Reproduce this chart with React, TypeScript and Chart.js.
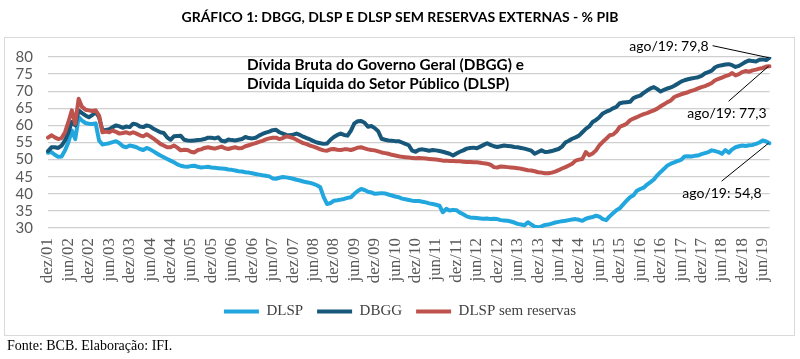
import React, { useEffect, useRef } from 'react';
import { Chart, registerables } from 'chart.js';

Chart.register(...registerables);

// ---- Data (% do PIB), monthly from dez/01 to ago/19 ----
const MONTHS = ['jan', 'fev', 'mar', 'abr', 'mai', 'jun', 'jul', 'ago', 'set', 'out', 'nov', 'dez'];
const FIRST_YEAR = 2001;
const FIRST_MONTH = 11; // dez

const DLSP = [
  52.0,
  52.2, 51.4, 50.8, 50.9, 52.7, 55.1, 58.5, 56.0, 62.4, 61.4, 60.7, 60.5,
  60.4, 60.6, 55.6, 54.4, 54.6, 54.8, 55.1, 55.4, 54.8, 53.9, 53.6, 54.1,
  53.9, 53.6, 53.1, 52.8, 53.4, 53.0, 52.4, 51.8, 51.2, 50.7, 50.2, 49.7,
  49.2, 48.6, 48.2, 48.0, 47.9, 48.1, 48.2, 47.9, 47.7, 47.8, 47.9, 47.7,
  47.6, 47.5, 47.4, 47.3, 47.1, 47.0, 46.8, 46.6, 46.5, 46.3, 46.2, 46.0,
  45.8, 45.6, 45.4, 45.3, 45.1, 44.5, 44.4, 44.7, 44.9, 44.8, 44.6, 44.4,
  44.1, 43.9, 43.6, 43.4, 43.2, 42.9, 42.5, 41.9, 39.0, 37.0, 37.3, 38.0,
  38.1, 38.3, 38.5, 38.8, 39.0, 40.0, 40.8, 41.4, 41.1, 40.6, 40.4, 40.0,
  40.1, 40.2, 40.1, 39.8, 39.5, 39.2, 39.0, 38.6, 38.4, 38.2, 38.0, 37.9,
  37.9, 37.7, 37.5, 37.2, 37.0, 36.8, 36.5, 34.6, 35.6, 35.1, 35.3, 35.2,
  34.5, 34.0, 33.4, 33.1, 33.0, 32.9, 32.8, 32.7, 32.8, 32.6, 32.7, 32.6,
  32.3, 32.2, 32.1, 31.9, 31.6, 31.2, 31.0, 30.8, 31.7, 31.0, 30.4, 30.2,
  30.5, 30.9, 31.0, 31.3, 31.6, 31.8, 32.0, 32.1, 32.3, 32.5, 32.6, 32.4,
  32.1, 32.7, 33.0, 33.2, 33.6, 33.3, 32.6, 32.3, 33.4, 34.3, 35.2, 35.8,
  36.9, 38.0, 39.0, 39.6, 40.9, 41.4, 41.8, 42.7, 43.4, 44.2, 45.4, 46.4,
  47.3, 48.3, 48.8, 49.2, 49.6, 49.9, 50.9, 51.0, 50.9, 51.1, 51.2, 51.6,
  51.9, 52.2, 52.7, 52.5, 52.2, 51.7, 52.8, 52.0, 53.0, 53.6, 53.9, 54.1,
  54.0, 54.2, 54.3, 54.6, 55.0, 55.6, 55.3, 54.8,
];

const DBGG = [
  52.5,
  53.6, 53.6, 53.4, 54.1, 55.6, 58.0, 61.0, 60.0, 64.4, 63.6, 62.9, 62.4,
  63.0, 63.9, 62.4, 58.5, 58.7, 58.9, 59.5, 60.0, 59.7, 59.3, 59.7, 59.5,
  60.5, 60.3, 59.7, 59.5, 60.0, 59.7, 59.0, 58.5, 58.0, 57.8, 56.5, 55.8,
  56.8, 56.9, 57.0, 55.8, 55.6, 55.5, 55.6, 55.7, 55.8, 56.0, 56.4, 56.4,
  56.2, 56.5, 55.5, 55.3, 55.9, 55.7, 55.6, 55.8, 56.0, 56.6, 56.3, 56.2,
  56.4, 57.0, 57.5, 57.9, 58.2, 58.6, 58.7, 58.0, 57.6, 57.2, 57.1, 57.3,
  57.6, 57.2, 56.7, 56.3, 55.9, 55.4, 55.0, 54.8, 54.6, 54.7, 55.8, 56.6,
  57.2, 57.6, 57.2, 57.0, 58.5, 60.6, 61.2, 61.3, 60.8, 59.6, 59.8, 59.2,
  58.3, 56.1, 55.8, 55.6, 55.5, 55.4, 55.4, 55.0, 54.6, 54.2, 52.6, 52.3,
  52.9, 53.0, 52.8, 52.6, 52.8, 52.7, 52.5, 52.3, 52.0, 51.7, 51.2, 51.8,
  52.3, 52.7, 53.2, 53.4, 53.5, 53.3, 53.8, 54.3, 54.8, 54.3, 53.9, 53.7,
  53.9, 54.1, 54.0, 53.9, 53.7, 53.6, 53.4, 53.2, 52.9, 52.6, 51.7, 52.2,
  52.7, 52.2, 52.3, 52.5, 52.8, 53.1, 53.8, 55.0, 55.5, 56.1, 56.5, 57.0,
  58.0, 59.0, 59.7, 61.0, 61.6, 62.4, 63.5, 64.0, 64.4, 65.0, 65.4, 66.5,
  66.7, 66.8, 66.9, 68.0, 68.4, 68.7, 69.5, 70.2, 70.8, 71.2, 70.6, 69.9,
  70.4, 70.8, 71.1, 71.6, 72.2, 72.8, 73.2, 73.5, 73.7, 73.9, 74.1, 74.5,
  75.2, 75.6, 76.0, 77.0, 77.4, 77.6, 77.8, 77.9, 77.6, 77.1, 77.4, 78.0,
  78.6, 79.0, 78.8, 78.7, 79.2, 79.3, 79.1, 79.8,
];

const DLSP_SEM_RESERVAS = [
  56.4,
  57.1, 56.5, 56.0, 56.3, 58.0, 61.0, 64.4, 60.5, 67.8, 65.4, 64.6, 64.4,
  64.2, 64.4, 62.9, 58.0, 58.2, 58.0, 58.5, 58.1, 57.6, 57.8, 58.0, 57.6,
  58.0, 57.6, 57.1, 56.8, 57.4, 56.8, 56.1, 55.4, 54.6, 54.1, 53.6, 53.6,
  54.1, 53.5, 52.7, 52.9, 52.8, 52.3, 52.1, 52.8, 53.0, 53.4, 53.6, 53.4,
  53.2, 53.5, 53.8, 53.3, 53.1, 53.4, 53.6, 53.3, 53.4, 53.9, 54.2, 54.5,
  54.8, 55.2, 55.5, 55.9, 56.2, 56.4, 56.4, 56.0, 56.3, 56.8, 56.6, 56.3,
  55.8, 55.3, 54.8, 54.5, 54.1, 53.8, 53.4, 53.0, 52.7, 52.6, 53.0, 53.1,
  52.9, 52.8, 53.0, 53.0, 52.8, 53.1, 53.5, 53.6, 53.3, 53.0, 52.8, 52.7,
  52.4, 52.1, 51.9, 51.7, 51.4, 51.2, 51.0, 50.8, 50.7, 50.6, 50.5, 50.4,
  50.5, 50.4, 50.3, 50.2, 50.1, 50.0, 49.9, 49.7, 49.7, 49.6, 49.6, 49.5,
  49.5, 49.4, 49.3, 49.3, 49.2, 49.2, 49.1, 48.9, 48.8, 48.5, 47.8, 47.7,
  48.0, 47.9, 47.8, 47.7, 47.6, 47.5, 47.3, 47.1, 46.9, 46.8, 46.6, 46.3,
  46.2, 46.0, 46.0, 46.2, 46.5, 46.9, 47.4, 47.8, 48.3, 48.8, 49.7, 50.0,
  50.2, 52.2, 51.3, 51.8, 52.7, 54.2, 55.2, 56.1, 57.1, 57.3, 58.2, 59.6,
  60.0, 60.5, 61.5, 62.0, 62.4, 62.9, 63.3, 63.6, 64.0, 64.4, 64.9, 65.6,
  66.2, 66.8, 67.3, 68.3, 68.7, 69.1, 69.4, 69.7, 70.1, 70.4, 70.8, 71.2,
  71.5, 71.9, 72.4, 73.2, 73.6, 74.0, 74.4, 74.7, 75.3, 74.6, 75.0, 75.6,
  75.9, 75.7, 76.1, 76.3, 76.6, 76.8, 77.2, 77.3,
];

const SERIES_NAMES = ['DLSP', 'DBGG', 'DLSP sem reservas'];
const SERIES_COLORS = ['#22a6de', '#17587a', '#bd534c'];

const Y_MIN = 30;
const Y_MAX = 80;
const Y_STEP = 5;
const LABEL_EVERY = 6;

const TITLE = 'GRÁFICO 1: DBGG, DLSP E DLSP SEM RESERVAS EXTERNAS - % PIB';
const INNER_TITLE = ['Dívida Bruta do Governo Geral (DBGG) e', 'Dívida Líquida do Setor Público (DLSP)'];
const SOURCE = 'Fonte: BCB. Elaboração: IFI.';

const categories = DLSP.map((_, i) => {
  const k = FIRST_MONTH + i;
  const m = k % 12;
  const y = FIRST_YEAR + Math.floor(k / 12);
  return `${MONTHS[m]}/${String(y % 100).padStart(2, '0')}`;
});

const fmt = (v: number) => v.toFixed(1).replace('.', ',');

const decorPlugin = {
  id: 'decor',
  beforeDraw(chart: any) {
    const { ctx, width, height } = chart;
    ctx.save();
    ctx.fillStyle = '#ffffff';
    ctx.fillRect(0, 0, width, height);
    ctx.restore();
  },
  afterDraw(chart: any) {
    const { ctx, chartArea } = chart;
    ctx.save();
    // frame
    ctx.strokeStyle = '#d9d9d9';
    ctx.lineWidth = 1;
    ctx.strokeRect(4.5, 37.5, 790, 298);
    // title
    ctx.fillStyle = '#000000';
    ctx.font = 'bold 14px Lato';
    ctx.textAlign = 'center';
    ctx.textBaseline = 'middle';
    ctx.fillText(TITLE, 400, 17);
    // inner title
    ctx.textAlign = 'left';
    ctx.font = 'bold 15.3px Lato';
    ctx.fillText(INNER_TITLE[0], chartArea.left + 199, 65.5);
    ctx.fillText(INNER_TITLE[1], chartArea.left + 199, 84);
    // source
    ctx.font = '14px "Liberation Serif"';
    ctx.fillStyle = '#000000';
    ctx.fillText(SOURCE, 7, 346);
    ctx.restore();
  },
  afterDatasetsDraw(chart: any) {
    const { ctx } = chart;
    const x = chart.scales.x;
    const y = chart.scales.y;
    const last = DLSP.length - 1;
    const px = x.getPixelForValue(last);
    const notes = [
      { v: DBGG[last], tx: -61, ty: -11, lx: -57, ly: -12 },
      { v: DLSP_SEM_RESERVAS[last], tx: -3, ty: 47, lx: -41, ly: 35 },
      { v: DLSP[last], tx: -8, ty: 50, lx: -48, ly: 38 },
    ];
    ctx.save();
    ctx.font = '14px Lato';
    ctx.fillStyle = '#000000';
    ctx.strokeStyle = '#000000';
    ctx.lineWidth = 1;
    ctx.textAlign = 'right';
    ctx.textBaseline = 'middle';
    notes.forEach((n) => {
      const py = y.getPixelForValue(n.v);
      ctx.beginPath();
      ctx.moveTo(px + n.lx, py + n.ly);
      ctx.lineTo(px - 1, py);
      ctx.stroke();
      ctx.fillText(`${categories[last]}: ${fmt(n.v)}`, px + n.tx, py + n.ty);
    });
    ctx.restore();
  },
};

export default function App() {
  const canvasRef = useRef<HTMLCanvasElement | null>(null);

  useEffect(() => {
    document.body.style.margin = '0';
    const canvas = canvasRef.current;
    if (!canvas) return;
    const seriesData = [DLSP, DBGG, DLSP_SEM_RESERVAS];
    const orders = [2, 1, 0];
    const chart = new Chart(canvas, {
      type: 'line',
      data: {
        labels: categories,
        datasets: seriesData.map((d, i) => ({
          label: SERIES_NAMES[i],
          data: d,
          borderColor: SERIES_COLORS[i],
          backgroundColor: SERIES_COLORS[i],
          borderWidth: 4,
          pointRadius: 0,
          tension: 0,
          borderJoinStyle: 'round' as const,
          borderCapStyle: 'round' as const,
          order: orders[i],
          yAxisID: 'y',
        })),
      },
      options: {
        responsive: false,
        animation: false,
        devicePixelRatio: 1,
        layout: { padding: { left: 0, right: 0, top: 57, bottom: 30 } },
        plugins: {
          title: { display: false },
          tooltip: { enabled: false },
          legend: {
            position: 'bottom',
            labels: {
              boxWidth: 35,
              boxHeight: 4,
              padding: 14,
              color: '#404040',
              font: { family: 'Liberation Serif', size: 15 },
              sort: (a: any, b: any) => a.datasetIndex - b.datasetIndex,
              generateLabels: (ch: any) =>
                ch.data.datasets.map((ds: any, i: number) => ({
                  text: ds.label,
                  fillStyle: ds.borderColor,
                  strokeStyle: ds.borderColor,
                  lineWidth: 0,
                  hidden: false,
                  datasetIndex: i,
                  fontColor: '#404040',
                })),
            },
          },
        },
        scales: {
          x: {
            type: 'category',
            offset: false,
            grid: { display: false, drawTicks: false },
            border: { display: false },
            ticks: {
              autoSkip: false,
              minRotation: 90,
              maxRotation: 90,
              padding: 10,
              color: '#595959',
              font: { family: 'Liberation Serif', size: 17 },
              callback: (_v: any, i: number) => (i % LABEL_EVERY === 0 ? categories[i] : ''),
            },
            afterFit: (s: any) => {
              s.height = 62;
            },
          },
          y: {
            position: 'left',
            min: Y_MIN,
            max: Y_MAX,
            grid: { color: '#cfcfcf', lineWidth: 1.3, drawTicks: false },
            border: { display: false },
            ticks: {
              stepSize: Y_STEP,
              autoSkip: false,
              padding: 15,
              color: '#595959',
              font: { family: 'Lato', size: 15 },
            },
            afterFit: (s: any) => {
              s.width = 48;
            },
          },
          yRight: {
            position: 'right',
            display: true,
            min: Y_MIN,
            max: Y_MAX,
            grid: { display: false, drawTicks: false },
            border: { display: false },
            ticks: { display: false },
            afterFit: (s: any) => {
              s.width = 24;
            },
          },
        },
      },
      plugins: [decorPlugin],
    });
    return () => chart.destroy();
  }, []);

  return (
    <div style={{ position: 'absolute', left: 0, top: 0, width: 800, height: 359 }}>
      <canvas ref={canvasRef} width={800} height={359} style={{ display: 'block' }} />
    </div>
  );
}
